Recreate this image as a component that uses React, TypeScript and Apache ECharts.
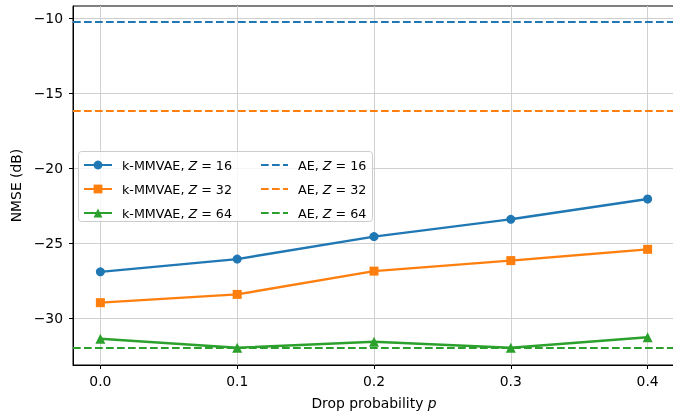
import React, { useEffect, useRef } from "react";
import * as echarts from "echarts";

const dropProb = [0.0, 0.1, 0.2, 0.3, 0.4];
const xTicks = [0.0, 0.1, 0.2, 0.3, 0.4];
const yTicks = [-30, -25, -20, -15, -10];
const mmvae16 = [-26.9, -26.05, -24.55, -23.4, -22.05];
const mmvae32 = [-28.95, -28.4, -26.85, -26.15, -25.4];
const mmvae64 = [-31.35, -31.95, -31.55, -31.95, -31.25];
const ae16 = -10.27;
const ae32 = -16.2;
const ae64 = -31.95;

const C1 = "#1f77b4";
const C2 = "#ff7f0e";
const C3 = "#2ca02c";
const FONT = "DejaVu Sans";
const LW = 2.4;

const minus = (v: number, d: number) =>
  (v < 0 ? "\u2212" : "") + Math.abs(v).toFixed(d);

export default function App() {
  const ref = useRef<HTMLDivElement>(null);
  useEffect(() => {
    if (!ref.current) return;
    const chart = echarts.init(ref.current, undefined, { renderer: "svg" });
    const lineSeries = (name: string, data: number[], color: string, symbol: string, size: number) => ({
      name,
      type: "line",
      data: dropProb.map((x, i) => [x, data[i]]),
      symbol,
      symbolSize: size,
      showSymbol: true,
      lineStyle: { color, width: LW },
      itemStyle: { color },
      z: 3,
    });
    const aeSeries = (name: string, v: number, color: string) => ({
      name,
      type: "line",
      data: [],
      symbol: "none",
      lineStyle: { color, width: 2.1, type: [7.7, 3.3] },
      itemStyle: { color, opacity: 0 },
      markLine: {
        silent: true,
        symbol: "none",
        label: { show: false },
        lineStyle: { color, width: 2.1, type: [7.7, 3.3], opacity: 1 },
        data: [{ yAxis: v }],
        animation: false,
      },
      z: 2,
    });
    const rich = {
      n: { fontFamily: FONT, fontSize: 12.7, color: "#000" },
      i: { fontFamily: FONT, fontSize: 12.7, fontStyle: "italic", color: "#000" },
    };
    const fmt = (name: string) => {
      const m = name.match(/^(.*), Z = (\d+)$/);
      if (!m) return name;
      return `{n|${m[1]}, }{i|Z}{n| = ${m[2]}}`;
    };
    chart.setOption({
      animation: false,
      grid: {
        left: 73,
        top: 6,
        right: 1,
        bottom: 49,
        show: true,
        borderColor: "#000",
        borderWidth: 1,
        backgroundColor: "transparent",
      },
      xAxis: {
        type: "value",
        min: -0.02,
        max: 0.42,
        splitNumber: 5,
        name: "Drop probability {i|p}",
        nameLocation: "middle",
        nameGap: 31,
        nameTextStyle: {
          fontFamily: FONT,
          fontSize: 13.9,
          color: "#000",
          rich: { i: { fontFamily: FONT, fontSize: 13.9, fontStyle: "italic", color: "#000" } },
        },
        axisLine: { show: true, onZero: false, lineStyle: { color: "#000", width: 1 } },
        axisTick: { show: true, length: 4, customValues: xTicks, lineStyle: { color: "#000" } },
        axisLabel: {
          customValues: xTicks,
          margin: 9,
          fontFamily: FONT,
          fontSize: 13.9,
          color: "#000",
          formatter: (v: number) => v.toFixed(1),
        },
        splitLine: { show: true, lineStyle: { color: "#d0d0d0", width: 1 } },
      },
      yAxis: {
        type: "value",
        min: -33.1,
        max: -9.2,
        splitNumber: 5,
        name: "NMSE (dB)",
        nameLocation: "middle",
        nameGap: 49,
        nameTextStyle: { fontFamily: FONT, fontSize: 13.9, color: "#000" },
        axisLine: { show: true, onZero: false, lineStyle: { color: "#000", width: 1 } },
        axisTick: { show: true, length: 4, customValues: yTicks, lineStyle: { color: "#000" } },
        axisLabel: {
          customValues: yTicks,
          margin: 10,
          fontFamily: FONT,
          fontSize: 13.9,
          color: "#000",
          formatter: (v: number) => minus(v, 0),
        },
        splitLine: { show: true, lineStyle: { color: "#d0d0d0", width: 1 } },
      },
      graphic: [
        {
          type: "rect",
          z: 3,
          shape: { x: 78.5, y: 151.5, width: 294, height: 70, r: 3 },
          style: { fill: "rgba(255,255,255,0.8)", stroke: "#cccccc", lineWidth: 1 },
        },
      ],
      legend: [
        {
          data: ["k-MMVAE, Z = 16", "k-MMVAE, Z = 32", "k-MMVAE, Z = 64"],
          orient: "vertical",
          left: 83,
          top: 158.5,
          itemWidth: 28,
          itemHeight: 11,
          itemGap: 11,
          padding: 0,
          z: 4,
          formatter: fmt,
          textStyle: { rich, padding: [0, 0, 0, 5] },
        },
        {
          data: ["AE, Z = 16", "AE, Z = 32", "AE, Z = 64"],
          orient: "vertical",
          left: 260,
          top: 158.5,
          itemWidth: 27,
          itemHeight: 11,
          itemGap: 11,
          padding: 0,
          z: 4,
          formatter: fmt,
          textStyle: { rich, padding: [0, 0, 0, 5] },
        },
      ],
      series: [
        lineSeries("k-MMVAE, Z = 16", mmvae16, C1, "circle", 9),
        lineSeries("k-MMVAE, Z = 32", mmvae32, C2, "rect", 9),
        lineSeries("k-MMVAE, Z = 64", mmvae64, C3, "triangle", 10),
        aeSeries("AE, Z = 16", ae16, C1),
        aeSeries("AE, Z = 32", ae32, C2),
        aeSeries("AE, Z = 64", ae64, C3),
      ],
    });
    return () => chart.dispose();
  }, []);
  return <div ref={ref} style={{ width: 676, height: 415, position: "fixed", left: 0, top: 0 }} />;
}
